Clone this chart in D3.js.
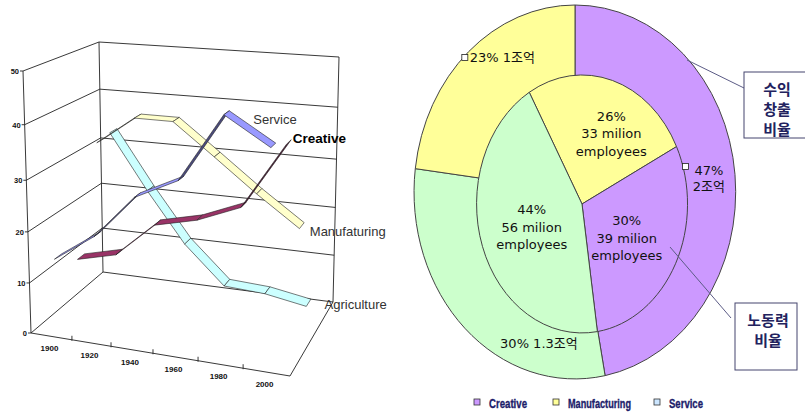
<!DOCTYPE html>
<meta charset="utf-8">
<title>Creative economy</title>
<script src="https://d3js.org/d3.v7.min.js"></script>
<style>
  body { margin: 0; background: #fff; }
  svg { display: block; }
</style>
<body>
<div id="chart"></div>
<script>

// ---- data : left 3D line chart
var years = ["1900", "1920", "1940", "1960", "1980", "2000"];
var seriesNames = ["Service", "Creative", "Manufaturing", "Agriculture"];
var serviceVals = [14.5, 20, 28.5, 32.5, 45, 40];
var creativeVals = [11, 13, 20, 22, 25.5, 38];
var manufVals = [32, 37.5, 37.5, 31.5, 25, 19];
var agriVals = [32.5, 21, 10.5, 2.5, 2, 0.5];
var yTicks = [0, 10, 20, 30, 40, 50];

// ---- data : right doughnut
var outerCats = ["Creative", "Service", "Manufacturing"];
var outerShare = [47, 30, 23];
var outerRevenue = ["2조억", "1.3조억", "1조억"];
var innerCats = ["Manufacturing", "Creative", "Service"];
var innerShare = [26, 30, 44];
var innerEmployees = [33, 39, 56];
var legendCats = ["Creative", "Manufacturing", "Service"];

var width = 805, height = 412;

var svg = d3.select("#chart").append("svg")
    .attr("width", width)
    .attr("height", height);

// ======================= left: 3D line chart =======================

// box corners on screen (floor / top), u = category, w = depth
var box = {
  A0: [31, 333], B0: [290, 376], C0: [103, 272], D0: [333, 302],
  A1: [23, 71],  B1: [292, 96],  C1: [99, 42],   D1: [339, 57]
};
function lerp(a, b, s) { return [a[0] + (b[0] - a[0]) * s, a[1] + (b[1] - a[1]) * s]; }
function proj(u, w, t) {
  var lo = lerp(lerp(box.A0, box.B0, u), lerp(box.C0, box.D0, u), w);
  var hi = lerp(lerp(box.A1, box.B1, u), lerp(box.C1, box.D1, u), w);
  return lerp(lo, hi, t);
}

// scales (perspective makes them slightly non linear)
var uScale = d3.scaleLinear().domain([0, 1, 2, 3, 4, 5, 6]).range([0, .158, .309, .471, .645, .819, 1]);
var vScale = d3.scaleLinear().domain(yTicks).range([0, .191, .386, .583, .795, 1]);
var wScale = d3.scaleOrdinal().domain(seriesNames).range([.12, .44, .74, .92]);
var colors = d3.scaleOrdinal().domain(seriesNames).range(["#9999ff", "#993366", "#ffffcc", "#ccffff"]);

function P(i, v, w) { return proj(uScale(i), w, vScale(v)); }

var left = svg.append("g");
var lineCol = "#222";

function seg(a, b) {
  left.append("line")
    .attr("x1", a[0]).attr("y1", a[1]).attr("x2", b[0]).attr("y2", b[1])
    .attr("stroke", lineCol).attr("stroke-width", 0.9);
}

// walls gridlines
yTicks.forEach(function(v) {
  seg(P(0, v, 1), P(6, v, 1));   // back wall
  seg(P(0, v, 0), P(0, v, 1));   // side wall
});
seg(P(0, 0, 1), P(0, 50, 1));
seg(P(6, 0, 1), P(6, 50, 1));
seg(P(0, 0, 0), P(0, 50, 0));   // value axis
seg(P(0, 0, 0), P(6, 0, 0));    // category axis
seg(P(6, 0, 0), P(6, 0, 1));

// value ticks + labels
yTicks.forEach(function(v) {
  var p = P(0, v, 0);
  seg([p[0] - 3, p[1]], p);
  left.append("text")
    .attr("x", p[0] - 4).attr("y", p[1] + 3)
    .attr("text-anchor", "end")
    .style("font", "bold 7.5px 'Liberation Sans', Arial, sans-serif")
    .attr("fill", "#111")
    .text(v);
});

// category ticks + labels
d3.range(1, 6).forEach(function(i) {
  var p = P(i, 0, 0);
  seg([p[0], p[1] - 4], [p[0], p[1] + 1]);
});
years.forEach(function(y, i) {
  var p = P(i + 0.5, 0, 0);
  left.append("text")
    .attr("x", p[0] - 2).attr("y", p[1] + 15)
    .attr("text-anchor", "middle")
    .style("font", "bold 8px 'Liberation Sans', Arial, sans-serif")
    .attr("fill", "#111")
    .text(y);
});

// ribbons, drawn back to front
var series = [
  {name: "Service", values: serviceVals},
  {name: "Creative", values: creativeVals},
  {name: "Manufaturing", values: manufVals},
  {name: "Agriculture", values: agriVals}
];
var half = 0.05;

series.slice().reverse().forEach(function(s) {
  var w = wScale(s.name), col = colors(s.name);
  var g = left.append("g");
  for (var i = 0; i < s.values.length - 1; i++) {
    var p0 = P(i + 0.5, s.values[i], w - half),
        p1 = P(i + 1.5, s.values[i + 1], w - half),
        q1 = P(i + 1.5, s.values[i + 1], w + half),
        q0 = P(i + 0.5, s.values[i], w + half);
    var cross = (p1[0] - p0[0]) * (q0[1] - p0[1]) - (p1[1] - p0[1]) * (q0[0] - p0[0]);
    g.append("path")
      .attr("d", "M" + [p0, p1, q1, q0].join("L") + "Z")
      .attr("fill", cross > 0 ? d3.color(col).darker(2) : col)
      .attr("stroke", "#222")
      .attr("stroke-width", 0.6)
      .attr("stroke-linejoin", "round");
  }
});

// series names next to the last points
var nameOffset = {
  Service: [-20, -21, "normal"], Creative: [4, 1, "bold"],
  Manufaturing: [8, 10, "normal"], Agriculture: [16, 6, "normal"]
};
series.forEach(function(s) {
  var p = P(5.5, s.values[5], wScale(s.name));
  var o = nameOffset[s.name];
  left.append("text")
    .attr("x", p[0] + o[0]).attr("y", p[1] + o[1])
    .style("font-family", "'Liberation Sans', Arial, sans-serif")
    .style("font-size", o[2] == "bold" ? "13.5px" : "13px")
    .style("font-weight", o[2])
    .attr("fill", o[2] == "bold" ? "#000" : "#333")
    .text(s.name);
});

// ======================= right: doughnut =======================

var pieColor = d3.scaleOrdinal()
  .domain(["Creative", "Manufacturing", "Service"])
  .range(["#cc99ff", "#ffff99", "#ccffcc"]);
var legendColor = d3.scaleOrdinal()
  .domain(["Creative", "Manufacturing", "Service"])
  .range(["#cc99ff", "#ffff99", "#cce6ff"]);

var outer = {cx: 575, cy: 192, rx: 161, ry: 187};
var inner = {cx: 582, cy: 204, rx: 105.5, ry: 129};

var outerData = d3.pie().sort(null)(outerShare);
var innerData = d3.pie().sort(null)
  .startAngle(-30 * Math.PI / 180).endAngle(330 * Math.PI / 180)(innerShare);

var arc = d3.arc().innerRadius(0).outerRadius(1);

function drawPie(e, data, cats) {
  svg.append("g")
    .attr("transform", "translate(" + e.cx + "," + e.cy + ") scale(" + e.rx + "," + e.ry + ")")
    .selectAll("path").data(data).join("path")
      .attr("d", arc)
      .attr("fill", function(d, i) { return pieColor(cats[i]); })
      .attr("stroke", "#444")
      .attr("stroke-width", 1)
      .attr("vector-effect", "non-scaling-stroke");
}
drawPie(outer, outerData, outerCats);
drawPie(inner, innerData, innerCats);

function at(e, d, frac, r) {
  var a = d.startAngle + frac * (d.endAngle - d.startAngle);
  return [e.cx + e.rx * r * Math.sin(a), e.cy - e.ry * r * Math.cos(a)];
}

var labFont = "13px 'DejaVu Sans', 'Noto Sans CJK KR', sans-serif";

function textLines(x, y, lines, gap) {
  var t = svg.append("text")
    .attr("text-anchor", "middle")
    .style("font", labFont)
    .attr("fill", "#111");
  lines.forEach(function(l, k) {
    t.append("tspan").attr("x", x).attr("y", y + k * gap).text(l);
  });
  return t;
}

function keyBox(x, y) {
  svg.append("rect")
    .attr("x", x).attr("y", y).attr("width", 6).attr("height", 6)
    .attr("fill", "#fff").attr("stroke", "#222").attr("stroke-width", 0.8);
}

// inner labels
var innerLab = [[0.61, 0.61], [0.54, 0.50], [0.49, 0.51]];
innerData.forEach(function(d, i) {
  var p = at(inner, d, innerLab[i][0], innerLab[i][1]);
  textLines(p[0], p[1] - 13, [innerShare[i] + "%", innerEmployees[i] + " milion", "employees"], 17.5);
});

// outer labels
var outerLab = [[0.50, 0.823], [0.255, 0.843], [0.60, 0.859]];
outerData.forEach(function(d, i) {
  var p = at(outer, d, outerLab[i][0], outerLab[i][1]);
  var cat = outerCats[i];
  if (cat == "Creative") {
    var t = textLines(p[0] + 2, p[1] - 3, [outerShare[i] + "%", outerRevenue[i]], 16);
    var w1 = t.select("tspan").node().getComputedTextLength();
    keyBox(p[0] + 2 - w1 / 2 - 12, p[1] - 14);
  } else {
    var t2 = textLines(p[0] + 3, p[1] + 5, [outerShare[i] + "% " + outerRevenue[i]], 16);
    if (cat == "Manufacturing") {
      var w2 = t2.node().getComputedTextLength();
      keyBox(p[0] + 3 - w2 / 2 - 8, p[1] - 3);
    }
  }
});

// call-out boxes
function callout(x1, y1, x2, y2, bx, by, bw, bh, lines) {
  svg.append("line")
    .attr("x1", x1).attr("y1", y1).attr("x2", x2).attr("y2", y2)
    .attr("stroke", "#5c5c86").attr("stroke-width", 1);
  svg.append("rect")
    .attr("x", bx).attr("y", by).attr("width", bw).attr("height", bh)
    .attr("fill", "#fff").attr("stroke", "#45456e").attr("stroke-width", 1);
  var t = svg.append("text")
    .attr("text-anchor", "middle")
    .style("font", "bold 15px 'Noto Sans CJK KR', sans-serif")
    .attr("fill", "#22225e");
  lines.forEach(function(l, k) {
    t.append("tspan").attr("x", bx + 33).attr("y", by + 23 + k * 20).text(l);
  });
}
callout(687, 60, 744, 88, 744, 72, 70, 66, ["수익", "창출", "비율"]);
callout(670, 247, 731, 318, 735, 303, 62, 67, ["노동력", "비율"]);

// legend (condensed bold look)
var legX = [474, 553, 654];
var legW = [38, 63, 34];
legendCats.forEach(function(c, i) {
  svg.append("rect")
    .attr("x", legX[i]).attr("y", 399).attr("width", 6).attr("height", 6)
    .attr("fill", legendColor(c)).attr("stroke", "#333").attr("stroke-width", 0.8);
  svg.append("text")
    .attr("x", legX[i] + 15).attr("y", 408)
    .attr("textLength", legW[i])
    .attr("lengthAdjust", "spacingAndGlyphs")
    .style("font", "bold 13px 'Liberation Sans', sans-serif")
    .attr("fill", "#1c1c6a")
    .attr("stroke", "#1c1c6a")
    .attr("stroke-width", 0.35)
    .text(c);
});

</script>
</body>
